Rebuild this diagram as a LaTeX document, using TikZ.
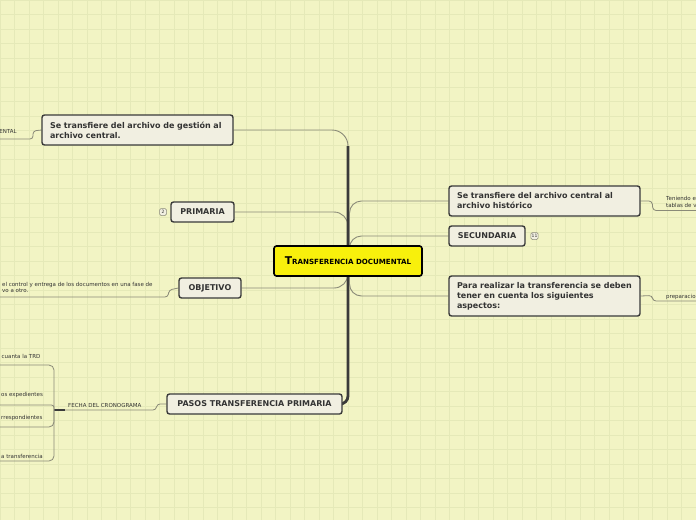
\documentclass[tikz,border=0pt]{standalone}
\usepackage{fontspec}
\setmainfont{DejaVu Sans}
\usetikzlibrary{calc}
\definecolor{bgc}{HTML}{F2F4C4}
\definecolor{gridc}{HTML}{E5E9B8}
\definecolor{boxfill}{HTML}{F1EFE1}
\definecolor{boxline}{HTML}{3A3A3A}
\definecolor{txt}{HTML}{333333}
\definecolor{yel}{HTML}{F8F00C}
\definecolor{thinl}{HTML}{8A8A78}
\definecolor{trunkc}{HTML}{3A3A3A}
\pgfdeclarelayer{bglayer}
\pgfdeclarelayer{linelayer}
\pgfsetlayers{bglayer,linelayer,main}
\begin{document}
\begin{tikzpicture}[x=1pt,y=-1pt,
  topic/.style={draw=boxline, fill=boxfill, line width=1.4pt, rounded corners=2.5pt,
    font=\fontsize{8}{10}\selectfont\bfseries, text=txt, inner sep=0pt, minimum height=20pt},
  central/.style={draw=black, fill=yel, line width=1.6pt, rounded corners=2.5pt,
    text=black, inner sep=0pt, minimum width=148pt, minimum height=30pt},
  badge/.style={draw=thinl, fill=boxfill, line width=0.5pt, rounded corners=1.5pt,
    font=\fontsize{4.5}{5}\selectfont, text=txt, inner sep=0.8pt, minimum height=7pt, minimum width=7pt},
  small/.style={font=\fontsize{5.5}{6.4}\selectfont, text=txt, inner sep=0pt, align=left},
  branch/.style={draw=thinl, line width=0.9pt},
  trunk/.style={draw=trunkc, line width=2.8pt},
  sub/.style={draw=thinl, line width=0.8pt, rounded corners=3pt}
]
\useasboundingbox (0,0) rectangle (696,520);
\begin{pgfonlayer}{bglayer}
  \fill[bgc] (0,0) rectangle (696,520);
  \foreach \i in {0,...,48} {\draw[gridc, line width=0.6pt] ({\i*14.5},0) -- ({\i*14.5},520);}
  \foreach \i in {0,...,36} {\draw[gridc, line width=0.6pt] (0,{\i*14.5}) -- (696,{\i*14.5});}
\end{pgfonlayer}

% main nodes
\node[central] (c) at (348,261) {\bfseries{\fontsize{10.7}{12}\selectfont T}{\fontsize{7.1}{9}\selectfont RANSFERENCIA DOCUMENTAL}};
\node[topic, minimum width=191pt, minimum height=30pt, text width=175pt, align=left] (g) at (137.5,130) {Se transfiere del archivo de gestión al\\archivo central.};
\node[topic, minimum width=63pt] (prim) at (202.5,212) {PRIMARIA};
\node[badge] (b2) at (163,212) {2};
\node[topic, minimum width=62pt] (obj) at (210,288) {OBJETIVO};
\node[topic, minimum width=175pt] (pasos) at (254.5,404) {PASOS TRANSFERENCIA PRIMARIA};
\node[topic, minimum width=191pt, minimum height=30pt, text width=175pt, align=left] (h) at (544.5,201) {Se transfiere del archivo central al\\archivo histórico};
\node[topic, minimum width=76pt] (sec) at (487,236) {SECUNDARIA};
\node[badge] (b11) at (534.5,236) {11};
\node[topic, minimum width=191pt, minimum height=40pt, text width=175pt, align=left] (para) at (544.5,296) {Para realizar la transferencia se deben\\tener en cuenta los siguientes\\aspectos:};

% sub texts
\node[small, anchor=east] (t1) at (17,131) {ENTAL};
\node[small, anchor=west] (t2) at (2,287.5) {el control y entrega de los documentos en una fase de\\vo a otro.};
\node[small, anchor=west] (t3) at (68,405) {FECHA DEL CRONOGRAMA};
\node[small, anchor=west] (t4) at (1.5,356) {cuanta la TRD};
\node[small, anchor=west] (t5) at (1,395) {os expedientes};
\node[small, anchor=west] (t6) at (1,418) {rrespondientes};
\node[small, anchor=west] (t7) at (1,456) {a transferencia};
\node[small, anchor=west] (t8) at (666,202) {Teniendo e\\tablas de v};
\node[small, anchor=west] (t9) at (666,297) {preparacio};

% free-end coordinates
\coordinate (e1) at (0,139);
\coordinate (e2) at (0,297);
\coordinate (e3) at (65,410);
\coordinate (j) at (54,410);
\coordinate (e4) at (0,365);
\coordinate (e5) at (0,405);
\coordinate (e6) at (0,427);
\coordinate (e7) at (0,461);
\coordinate (e8) at (696,210.5);
\coordinate (e9) at (696,301);

\begin{pgfonlayer}{linelayer}
  % left main branches
  \draw[branch, rounded corners=16pt] (g.east) -- (g.east -| c.center) -- (c.center);
  \draw[branch, rounded corners=14pt] (prim.east) -- (prim.east -| c.center) -- (c.center);
  \draw[branch, rounded corners=14pt] (obj.east) -- (obj.east -| c.center) -- (c.center);
  \draw[trunk, rounded corners=8pt] ($(g.east -| c.center)+(0,16)$) -- (pasos.east -| c.center) -- (pasos.east);
  % right main branches
  \draw[branch, rounded corners=12pt] ($(c.center)+(1.5,0)$) -- ($(c.center |- h.west)+(1.5,0)$) -- (h.west);
  \draw[branch, rounded corners=12pt] ($(c.center)+(1.5,0)$) -- ($(c.center |- sec.west)+(1.5,0)$) -- (sec.west);
  \draw[branch, rounded corners=12pt] ($(c.center)+(1.5,0)$) -- ($(c.center |- para.west)+(1.5,0)$) -- (para.west);
  % sub branches
  \draw[sub] (g.west) -- (33,131) -- (33,139) -- (e1);
  \draw[sub] (obj.west) -- (169,290) -- (168,297) -- (e2);
  \draw[sub] (pasos.west) -- (157,404) -- (156,410) -- (e3);
  \draw[trunkc, line width=1.6pt] (e3) -- (j);
  \draw[sub, rounded corners=5pt] (e4) -- (j |- e4) -- (j);
  \draw[sub, rounded corners=2.5pt] (e5) -- (j |- e5) -- (j);
  \draw[sub, rounded corners=5pt] (e6) -- (j |- e6) -- (j);
  \draw[sub, rounded corners=5pt] (e7) -- (j |- e7) -- (j);
  \draw[sub] (h.east) -- (652,201) -- (653,210.5) -- (e8);
  \draw[sub] (para.east) -- (652,295.5) -- (653,301) -- (e9);
\end{pgfonlayer}
\end{tikzpicture}
\end{document}
